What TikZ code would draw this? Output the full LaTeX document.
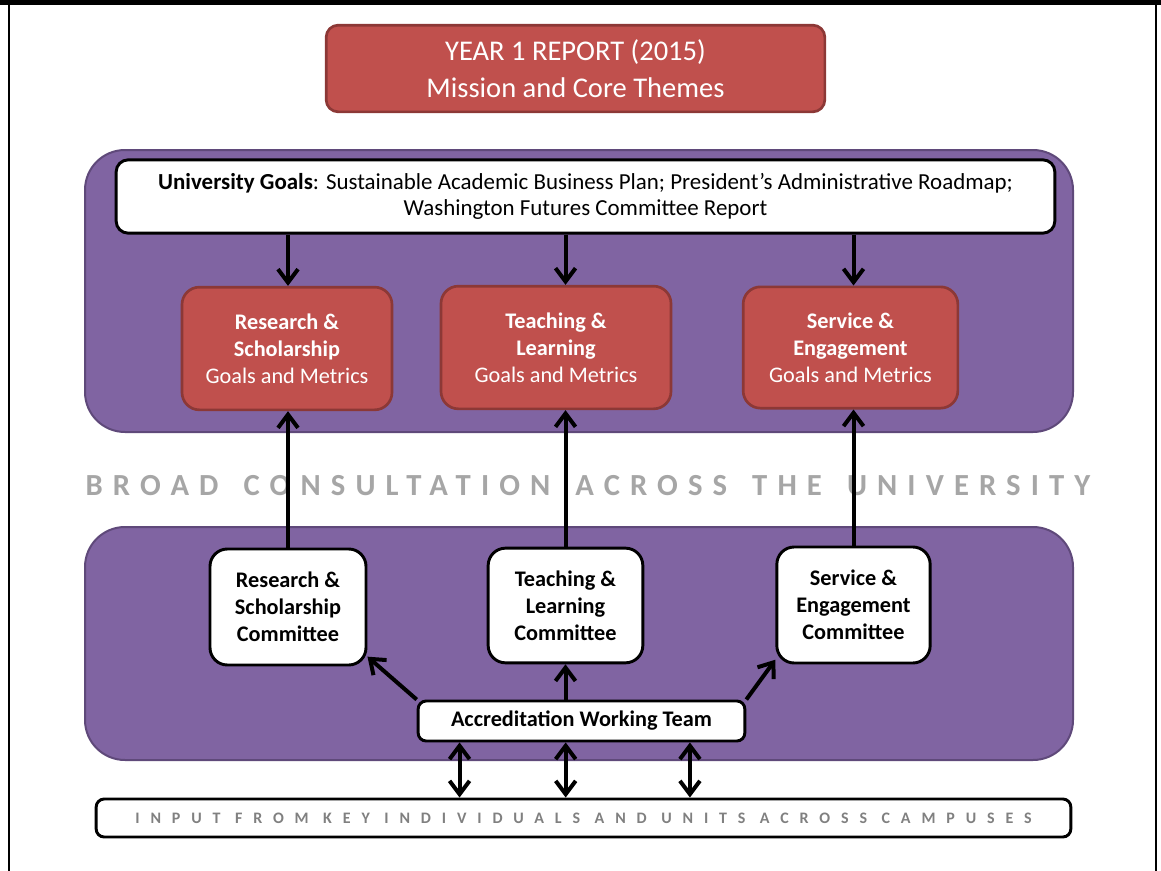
\documentclass[tikz,border=0pt]{standalone}
\usepackage{fontspec}
\setmainfont{Carlito}
\usepackage{xcolor}
\usetikzlibrary{positioning,calc,arrows.meta}

\definecolor{panelpurple}{HTML}{8064A2}
\definecolor{paneledge}{HTML}{5F497A}
\definecolor{boxred}{HTML}{C0504D}
\definecolor{rededge}{HTML}{8C3836}
\definecolor{bandgray}{HTML}{A6A6A6}
\definecolor{inputgray}{HTML}{808080}

\newcommand{\wgap}{\hspace{6pt} }

\tikzset{
  panel/.style={draw=paneledge, line width=1.5pt, fill=panelpurple, rounded corners=30pt},
  redbox/.style={draw=rededge, line width=2pt, fill=boxred, rounded corners=13pt, text=white,
    align=center, inner sep=0pt, font=\fontsize{16.7}{20.3}\selectfont},
  whitebox/.style={draw=black, line width=2.2pt, fill=white, rounded corners=13pt,
    align=center, inner sep=0pt, font=\bfseries\fontsize{16.7}{20.3}\selectfont},
  arr/.style={line width=3pt, -{Straight Barb[length=10pt,width=15pt]}},
  dblarr/.style={line width=3pt, {Straight Barb[length=10pt,width=15pt]}-{Straight Barb[length=10pt,width=15pt]}},
}

\begin{document}
\begin{tikzpicture}[x=0.75pt, y=-0.75pt]
    \useasboundingbox (0,0) rectangle (1161,871);
    % frame
    \fill[black] (0,0) rectangle (1161,5);
    \draw[line width=2pt] (9,5) -- (9,871);
    \draw[line width=2pt] (1156,5) -- (1156,871);

    % title
    \node[redbox, rounded corners=9pt, minimum width=374pt, minimum height=65pt,
          font=\fontsize{21.4}{28}\selectfont] (title) at (575.5,68.5)
          {YEAR 1 REPORT (2015)\\Mission and Core Themes};

    % purple panels
    \draw[panel] (85,150) rectangle (1073,432);
    \draw[panel] (85,527) rectangle (1073,760);

    \node[whitebox, rounded corners=9pt, minimum width=704pt, minimum height=55pt,
          font=\fontsize{17.2}{19.5}\selectfont] (ug) at (585.5,196.5)
          {\textbf{University Goals}: Sustainable Academic Business Plan; President’s Administrative Roadmap;\\
           Washington Futures Committee Report};

    % goals and metrics
    \node[redbox, minimum width=157.5pt, minimum height=92pt] (rsg) at (287,348.5)
          {\textbf{Research \&}\\\textbf{Scholarship}\\Goals and Metrics};
    \node[redbox, minimum width=172.5pt, minimum height=92pt] (tlg) at (556,347.5)
          {\textbf{Teaching \&}\\\textbf{Learning}\\Goals and Metrics};
    \node[redbox, minimum width=161pt, minimum height=91pt] (seg) at (850.5,347.5)
          {\textbf{Service \&}\\\textbf{Engagement}\\Goals and Metrics};

    \node[font=\bfseries\fontsize{23}{26}\selectfont\addfontfeature{LetterSpace=33}, text=bandgray]
          (broad) at (588,486) {BROAD\wgap CONSULTATION\wgap ACROSS\wgap THE\wgap UNIVERSITY};

    % committees
    \node[whitebox, minimum width=117pt, minimum height=87pt] (rsc) at (288,607)
          {Research \&\\Scholarship\\Committee};
    \node[whitebox, minimum width=116pt, minimum height=86pt] (tlc) at (565.5,605.5)
          {Teaching \&\\Learning\\Committee};
    \node[whitebox, minimum width=115pt, minimum height=87pt] (sec) at (853.5,605)
          {Service \&\\Engagement\\Committee};

    \node[whitebox, rounded corners=6pt, minimum width=245pt, minimum height=30pt] (awt) at (581.5,721)
          {Accreditation Working Team};

    \node[whitebox, rounded corners=6pt, minimum width=731pt, minimum height=28.5pt,
          font=\bfseries\fontsize{12}{14}\selectfont\addfontfeature{LetterSpace=68}, text=inputgray]
          (inp) at (583.5,818) {INPUT FROM KEY INDIVIDUALS AND UNITS ACROSS CAMPUSES};

    % arrows
    \foreach \c/\g in {rsc/rsg, tlc/tlg, sec/seg} {
        \draw[arr] (\c.north |- ug.south) -- (\c.north |- \g.north);
        \draw[arr] (\c.north) -- (\c.north |- \g.south);
    }
    \draw[arr] (awt.north west) -- (rsc.-32);
    \draw[arr] (awt.north -| tlc.south) -- (tlc.south);
    \draw[arr] (awt.north east) -- (sec.215);

    \foreach \f/\n in {0.13/a1, 0.452/a2, 0.829/a3}
        \draw[dblarr] ($(awt.south west)!\f!(awt.south east)$) coordinate (\n) -- (\n |- inp.north);
\end{tikzpicture}
\end{document}
